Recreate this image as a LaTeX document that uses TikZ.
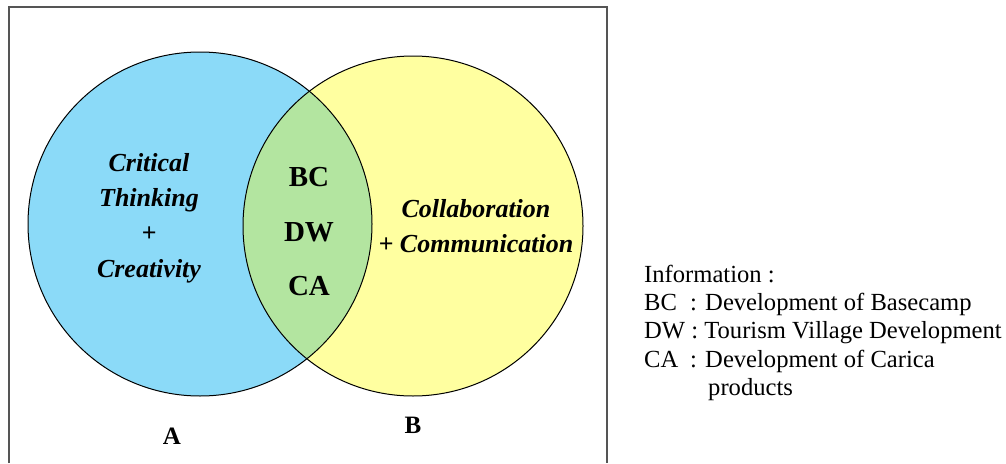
\documentclass[tikz,border=0pt]{standalone}
\usepackage{fontspec}
\setmainfont{Liberation Serif}
\definecolor{cblue}{HTML}{8BDAF8}
\definecolor{cyellow}{HTML}{FFFFA0}
\definecolor{cgreen}{HTML}{B3E5A0}
\definecolor{frameg}{HTML}{555555}
\begin{document}
\begin{tikzpicture}[x=1pt,y=-1pt,
  venntxt/.style={font=\fontsize{26}{30}\selectfont\bfseries\itshape, anchor=base, inner sep=0pt},
  codetxt/.style={font=\fontsize{29}{33}\selectfont\bfseries, anchor=base, inner sep=0pt},
  lbltxt/.style={font=\fontsize{25}{29}\selectfont\bfseries, anchor=base, inner sep=0pt},
  legtxt/.style={font=\fontsize{24.6}{28}\selectfont, anchor=base west, inner sep=0pt},
  outline/.style={draw=black, line width=1pt}]
\useasboundingbox (0,0) rectangle (1006,463);
% frame
\draw[frameg, line width=1.2pt] (9,463) -- (9,7) -- (607,7) -- (607,463);
% circles
\coordinate (ca) at (200,224);
\coordinate (cb) at (413,226);
\fill[cblue] (ca) circle[radius=172];
\fill[cyellow] (cb) circle[radius=170];
\begin{scope}
  \clip (ca) circle[radius=172];
  \fill[cgreen] (cb) circle[radius=170];
\end{scope}
\draw[outline] (ca) circle[radius=172];
\draw[outline] (cb) circle[radius=170];
% texts in A
\node[venntxt] (t1) at (149,171) {Critical};
\node[venntxt] (t2) at (149,206) {Thinking};
\node[venntxt] (t3) at (149,241) {+};
\node[venntxt] (t4) at (149,277) {Creativity};
% lens
\node[codetxt] (bc) at (309,186) {BC};
\node[codetxt] (dw) at (309,241) {DW};
\node[codetxt] (cac) at (309,295) {CA};
% B
\node[venntxt] (u1) at (476,217) {Collaboration};
\node[venntxt] (u2) at (476,252) {+ Communication};
% labels
\node[lbltxt] (la) at (172,444) {A};
\node[lbltxt] (lb) at (413,433) {B};
% legend
\node[legtxt] (i0) at (644,282) {Information :};
\node[legtxt] (i1) at (644,310) {BC};
\node[legtxt] (i1b) at (690,310) {: Development of Basecamp};
\node[legtxt] (i2) at (644,338) {DW : Tourism Village Development};
\node[legtxt] (i3) at (644,367) {CA};
\node[legtxt] (i3b) at (690,367) {: Development of Carica};
\node[legtxt] (i4) at (708,395) {products};
\end{tikzpicture}
\end{document}
